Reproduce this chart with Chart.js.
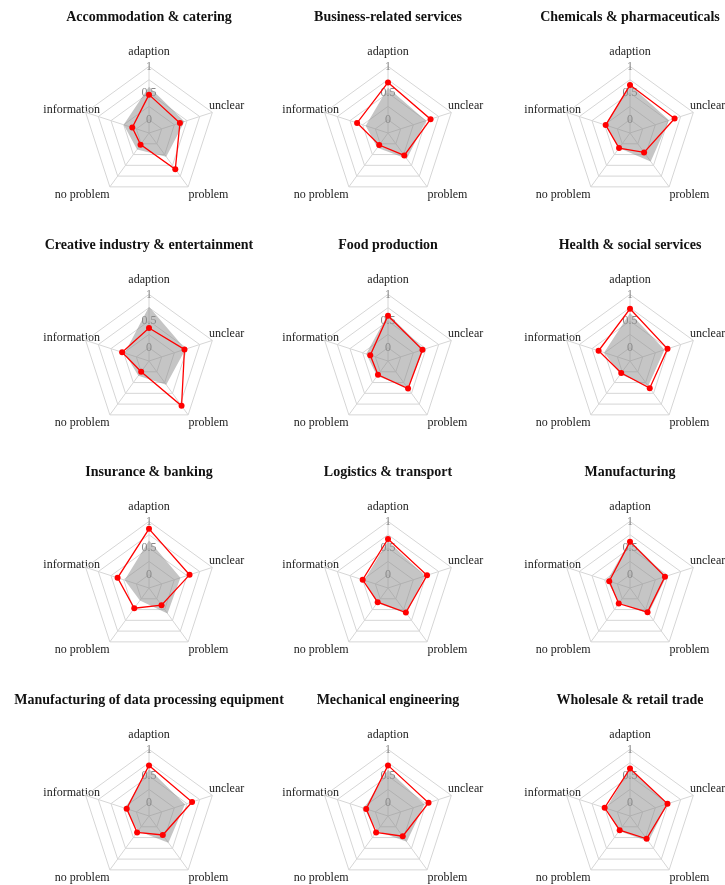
<!DOCTYPE html>
<html>
<head>
<meta charset="utf-8">
<script src="https://cdn.jsdelivr.net/npm/chart.js@4.4.1/dist/chart.umd.min.js"></script>
<style>
  body { margin: 0; background: #fff; width: 725px; height: 885px; overflow: hidden; position: relative; }
  canvas { position: absolute; }
</style>
</head>
<body>
<script>
const axisLabels = ['adaption', 'unclear', 'problem', 'no problem', 'information']

const sectors = [
    'Accommodation & catering', 'Business-related services', 'Chemicals & pharmaceuticals',
    'Creative industry & entertainment', 'Food production', 'Health & social services',
    'Insurance & banking', 'Logistics & transport', 'Manufacturing',
    'Manufacturing of data processing equipment', 'Mechanical engineering', 'Wholesale & retail trade'
]

// red line: the sector itself
const sectorShares = [
    [0.47, 0.36, 0.59, 0.02, 0.08],
    [0.70, 0.59, 0.27, 0.03, 0.36],
    [0.65, 0.63, 0.20, 0.10, 0.23],
    [0.37, 0.45, 0.79, 0.00, 0.28],
    [0.60, 0.43, 0.39, 0.07, 0.10],
    [0.73, 0.49, 0.38, 0.03, 0.37],
    [0.86, 0.55, 0.15, 0.22, 0.37],
    [0.67, 0.52, 0.32, 0.08, 0.25],
    [0.62, 0.44, 0.31, 0.11, 0.16],
    [0.70, 0.60, 0.19, 0.13, 0.19],
    [0.70, 0.55, 0.22, 0.13, 0.18],
    [0.64, 0.49, 0.28, 0.08, 0.25]
]

// grey area: comparison
const compareShares = [
    [0.62, 0.45, 0.30, 0.13, 0.25],
    [0.60, 0.50, 0.35, 0.09, 0.19],
    [0.65, 0.52, 0.41, 0.10, 0.23],
    [0.77, 0.47, 0.30, 0.09, 0.23],
    [0.63, 0.46, 0.37, 0.10, 0.18],
    [0.65, 0.43, 0.33, 0.06, 0.26],
    [0.64, 0.37, 0.34, 0.04, 0.23],
    [0.63, 0.48, 0.34, 0.10, 0.22],
    [0.64, 0.47, 0.34, 0.10, 0.20],
    [0.63, 0.46, 0.37, 0.10, 0.22],
    [0.62, 0.47, 0.35, 0.10, 0.22],
    [0.64, 0.48, 0.34, 0.10, 0.22]
]

const shownTicks = [0, 0.5, 1]

// layout: radar centres of the 3 columns / 4 rows
const colX = [149, 388, 630]
const rowY = [133, 361, 588, 816]
const canvasW = 320
const canvasH = 216
// label distance tweaks per axis so the labels sit like in the original
const labelPadding = [-1, -11.6, -7.6, -7.6, -23.1]

const serif = 'Liberation Serif'

sectors.forEach(function (name, i) {
    const col = i % 3
    const row = Math.floor(i / 3)
    const canvas = document.createElement('canvas')
    canvas.width = canvasW
    canvas.height = canvasH
    canvas.style.left = (colX[col] - canvasW / 2) + 'px'
    canvas.style.top = (rowY[row] - 133) + 'px'
    document.body.appendChild(canvas)

    new Chart(canvas, {
        type: 'radar',
        data: {
            labels: axisLabels,
            datasets: [
                {
                    data: sectorShares[i],
                    borderColor: '#ff0000',
                    backgroundColor: '#ff0000',
                    borderWidth: 1.3,
                    pointRadius: 3,
                    pointBorderWidth: 0,
                    pointBackgroundColor: '#ff0000',
                    fill: false,
                    order: 0
                },
                {
                    data: compareShares[i],
                    borderWidth: 0,
                    borderColor: 'rgba(0,0,0,0)',
                    backgroundColor: 'rgba(140,140,140,0.5)',
                    pointRadius: 0,
                    fill: 'start',
                    order: 1
                }
            ]
        },
        options: {
            responsive: false,
            animation: false,
            events: [],
            plugins: {
                legend: { display: false },
                tooltip: { enabled: false },
                title: {
                    display: true,
                    text: name,
                    color: '#111',
                    font: { family: serif, size: 14, weight: 'bold' },
                    padding: { top: 8.6, bottom: 13.6 }
                }
            },
            scales: {
                r: {
                    min: -0.25,
                    max: 1,
                    ticks: {
                        stepSize: 0.25,
                        showLabelBackdrop: false,
                        color: '#888',
                        font: { family: serif, size: 12 },
                        callback: function (v) {
                            return shownTicks.some(t => Math.abs(t - v) < 1e-6) ? String(Math.round(v * 10) / 10) : ''
                        }
                    },
                    grid: { color: '#d6d6d6', lineWidth: 1 },
                    angleLines: { color: '#d6d6d6', lineWidth: 1 },
                    pointLabels: {
                        color: '#222',
                        padding: ctx => labelPadding[ctx.index],
                        font: { family: serif, size: 12 }
                    }
                }
            }
        }
    })
})
</script>
</body>
</html>
